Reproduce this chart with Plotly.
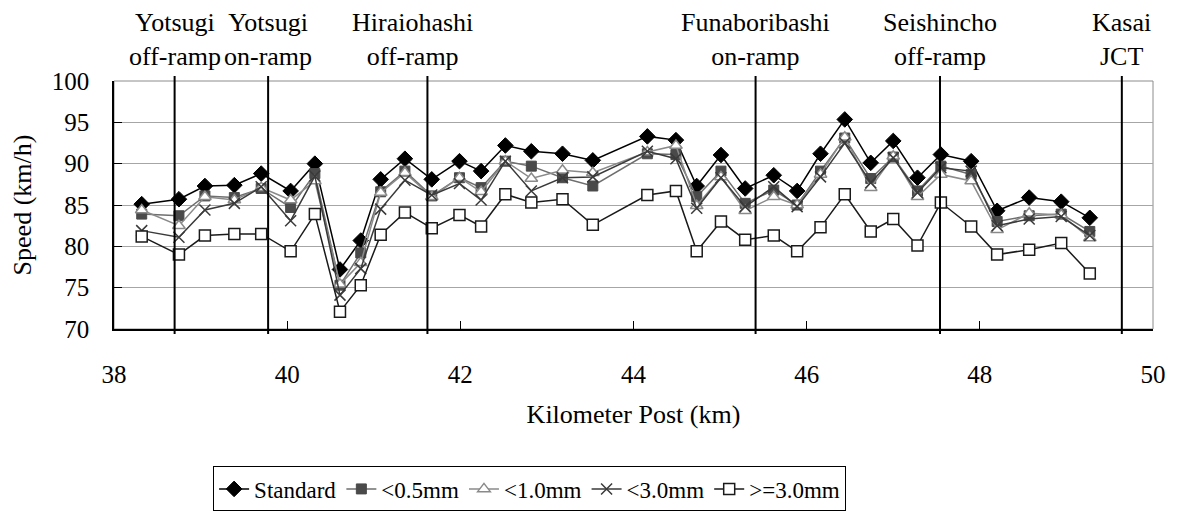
import plotly.graph_objects as go

km = [38.32, 38.75, 39.05, 39.39, 39.70, 40.04, 40.32, 40.61, 40.85, 41.08, 41.36, 41.67,
      41.99, 42.24, 42.52, 42.82, 43.18, 43.53, 44.16, 44.49, 44.73, 45.01, 45.29, 45.62,
      45.89, 46.16, 46.44, 46.74, 47.00, 47.28, 47.55, 47.90, 48.20, 48.57, 48.94, 49.27]

standard = [85.1, 85.7, 87.3, 87.4, 88.8, 86.7, 90.0, 77.2, 80.7, 88.1, 90.6, 88.1,
            90.3, 89.1, 92.2, 91.5, 91.2, 90.4, 93.3, 92.85, 87.3, 91.05, 87.0, 88.6,
            86.7, 91.2, 95.35, 90.1, 92.75, 88.3, 91.1, 90.3, 84.3, 85.9, 85.4, 83.45]
lt05 = [83.9, 83.7, 86.1, 85.9, 87.0, 84.7, 88.8, 75.3, 79.2, 86.6, 89.1, 86.1,
        88.3, 87.1, 90.3, 89.7, 88.3, 87.3, 91.2, 91.1, 86.0, 89.1, 85.2, 86.8,
        85.0, 89.1, 93.1, 88.2, 90.8, 86.7, 89.7, 88.7, 83.0, 83.7, 83.9, 81.8]
lt10 = [84.4, 82.5, 86.0, 85.6, 87.1, 85.6, 87.9, 75.4, 78.0, 86.5, 88.9, 86.0,
        88.3, 86.6, 90.3, 88.2, 89.2, 88.9, 91.4, 92.2, 84.9, 88.4, 84.3, 86.0,
        85.0, 88.7, 93.2, 87.1, 90.9, 86.0, 88.7, 87.9, 82.0, 84.0, 83.8, 81.0]
lt30 = [81.9, 81.1, 84.4, 85.2, 87.2, 83.1, 88.5, 74.1, 77.3, 84.5, 88.0, 86.2,
        87.6, 85.6, 90.3, 86.7, 88.3, 88.4, 91.5, 90.6, 84.6, 88.3, 84.8, 87.2,
        84.8, 88.4, 92.5, 87.7, 90.7, 86.5, 89.5, 89.1, 82.5, 83.3, 83.6, 81.3]
ge30 = [81.2, 79.0, 81.3, 81.5, 81.5, 79.4, 83.9, 72.1, 75.3, 81.4, 84.1, 82.2,
        83.8, 82.4, 86.3, 85.3, 85.7, 82.6, 86.2, 86.7, 79.4, 83.0, 80.8, 81.3,
        79.4, 82.3, 86.3, 81.8, 83.3, 80.1, 85.3, 82.4, 79.0, 79.6, 80.4, 76.7]

ramp_km = [38.70, 39.78, 41.62, 45.41, 47.54, 49.64]
ramp_label_km = [38.70, 39.78, 41.45, 45.41, 47.54, 49.64]
ramp_names = ["Yotsugi<br>off-ramp", "Yotsugi<br>on-ramp", "Hiraiohashi<br>off-ramp",
              "Funaboribashi<br>on-ramp", "Seishincho<br>off-ramp", "Kasai<br>JCT"]

FONT = "Times New Roman, Liberation Serif, DejaVu Serif, serif"
FS = 25

series = [
    ("Standard", standard, dict(symbol="diamond", size=12, color="#000000",
                                line=dict(color="#000000", width=1)), "#000000"),
    ("&lt;0.5mm", lt05, dict(symbol="square", size=10, color="#4a4a4a",
                             line=dict(color="#4a4a4a", width=1)), "#6e6e6e"),
    ("&lt;1.0mm", lt10, dict(symbol="triangle-up", size=11, color="#ffffff",
                             line=dict(color="#8a8a8a", width=1.5)), "#8a8a8a"),
    ("&lt;3.0mm", lt30, dict(symbol="x-thin", size=11, color="#3a3a3a",
                             line=dict(color="#3a3a3a", width=1.5)), "#3a3a3a"),
    ("&gt;=3.0mm", ge30, dict(symbol="square", size=11, color="#ffffff",
                              line=dict(color="#1a1a1a", width=1.5)), "#1a1a1a"),
]

fig = go.Figure()
for name, vals, marker, lc in series:
    fig.add_trace(go.Scatter(x=km, y=vals, mode="lines+markers", name=name,
                             line=dict(color=lc, width=1.5), marker=marker,
                             cliponaxis=False))

shapes = [dict(type="rect", xref="paper", yref="paper", x0=0, x1=1, y0=0, y1=1,
               line=dict(color="#8c8c8c", width=1), layer="below")]
for r in ramp_km:
    shapes.append(dict(type="line", xref="x", yref="paper", x0=r, x1=r, y0=-0.02, y1=1.02,
                       line=dict(color="#000000", width=2)))

annotations = []
for xk, t in zip(ramp_label_km, ramp_names):
    annotations.append(dict(x=xk, xref="x", y=1, yref="paper", yanchor="bottom",
                            xanchor="center", text=t, showarrow=False, yshift=8,
                            font=dict(family=FONT, size=26, color="#000000")))

# page body has an 8px margin: size the figure so the plot lands where the reference has it
fig.update_layout(
    width=1170, height=515,
    margin=dict(l=104, r=24, t=73, b=181),
    paper_bgcolor="white", plot_bgcolor="white",
    font=dict(family=FONT, size=FS, color="#000000"),
    shapes=shapes, annotations=annotations,
    xaxis=dict(range=[38, 50], dtick=2, tick0=38, showgrid=False, zeroline=False,
               showline=True, linecolor="#000000", linewidth=1.5,
               ticks="inside", ticklen=8, tickcolor="#000000",
               ticklabelstandoff=22,
               tickfont=dict(family=FONT, size=FS),
               title=dict(text="Kilometer Post (km)", standoff=18,
                          font=dict(family=FONT, size=26))),
    yaxis=dict(range=[70, 100], dtick=5, showgrid=True, gridcolor="#a6a6a6", gridwidth=1,
               zeroline=False, showline=True, linecolor="#000000", linewidth=1.5,
               ticks="inside", ticklen=8, tickcolor="#000000",
               ticklabelstandoff=18,
               tickfont=dict(family=FONT, size=FS),
               title=dict(text="Speed (km/h)", standoff=14,
                          font=dict(family=FONT, size=26))),
    legend=dict(orientation="h", x=0.40, xanchor="center", y=-0.645, yanchor="middle",
                bordercolor="#000000", borderwidth=1, bgcolor="white",
                font=dict(family=FONT, size=23), itemwidth=30,
                tracegroupgap=0),
    showlegend=True,
)

fig.write_html("out.html")
